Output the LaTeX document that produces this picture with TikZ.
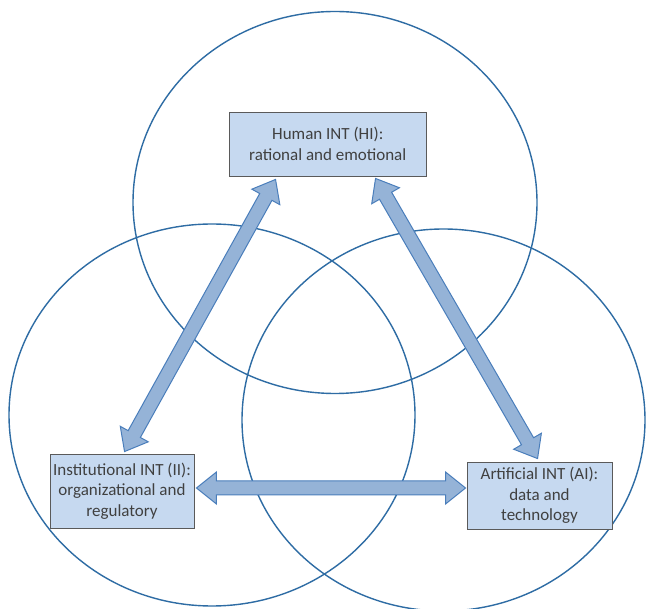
\documentclass[tikz,border=0pt]{standalone}
\usepackage{fontspec}
\setmainfont{Carlito}
\usetikzlibrary{calc}
\definecolor{circ}{HTML}{2E6CA4}
\definecolor{boxfill}{HTML}{C6D9F0}
\definecolor{boxline}{HTML}{5A5A5A}
\definecolor{txt}{HTML}{404040}
\definecolor{arrfill}{HTML}{95B3D7}
\definecolor{arrline}{HTML}{4A7EBB}
\newcommand\myblockarrow[2]{%
  \coordinate (ba1) at ($(#1)!20pt!(#2)$);
  \coordinate (ba2) at ($(#2)!20pt!(#1)$);
  \draw[blockarr] (#1) -- ($(ba1)!16pt!90:(#2)$) -- ($(ba1)!7pt!90:(#2)$)
    -- ($(ba2)!7pt!-90:(#1)$) -- ($(ba2)!16pt!-90:(#1)$) -- (#2)
    -- ($(ba2)!16pt!90:(#1)$) -- ($(ba2)!7pt!90:(#1)$)
    -- ($(ba1)!7pt!-90:(#2)$) -- ($(ba1)!16pt!-90:(#2)$) -- cycle;}
\begin{document}
\begin{tikzpicture}[x=1pt,y=-1pt,
  ring/.style={draw=circ,line width=1.4pt},
  infobox/.style={draw=boxline,fill=boxfill,line width=0.9pt,inner sep=0pt,
    align=center,text=txt,font=\fontsize{17}{20.5}\selectfont},
  blockarr/.style={draw=arrline,fill=arrfill,line width=1pt,line join=miter}]
\useasboundingbox[fill=white] (0,0) rectangle (646,609);
% circles
\draw[ring] (335,202.5) ellipse [x radius=202pt, y radius=191pt];
\draw[ring] (212,415) ellipse [x radius=203pt, y radius=191pt];
\draw[ring] (443.5,420) ellipse [x radius=201.5pt, y radius=191pt];
% boxes
\node[infobox,minimum width=197.5pt,minimum height=64pt] (hi) at (327.75,144)
  {Human INT (HI):\\rational and emotional};
\node[infobox,minimum width=144pt,minimum height=74pt] (ii) at (122,491)
  {Institutional INT (II):\\organizational and\\regulatory};
\node[infobox,minimum width=145pt,minimum height=67pt] (ai) at (539.5,495.5)
  {Artificial INT (AI):\\data and\\technology};
% arrow end points
\coordinate (hiL) at ($(hi.south west)+(47,3)$);
\coordinate (hiR) at ($(hi.south west)+(147,2)$);
\coordinate (iiT) at ($(ii.north west)+(75,-2)$);
\coordinate (aiT) at ($(ai.north west)+(71,-3)$);
\coordinate (iiE) at ($(ii.east)+(2,-3)$);
\coordinate (aiW) at ($(ai.west)+(-1,-7.5)$);
% arrows
\myblockarrow{hiL}{iiT}
\myblockarrow{hiR}{aiT}
\myblockarrow{iiE}{aiW}
\end{tikzpicture}
\end{document}
